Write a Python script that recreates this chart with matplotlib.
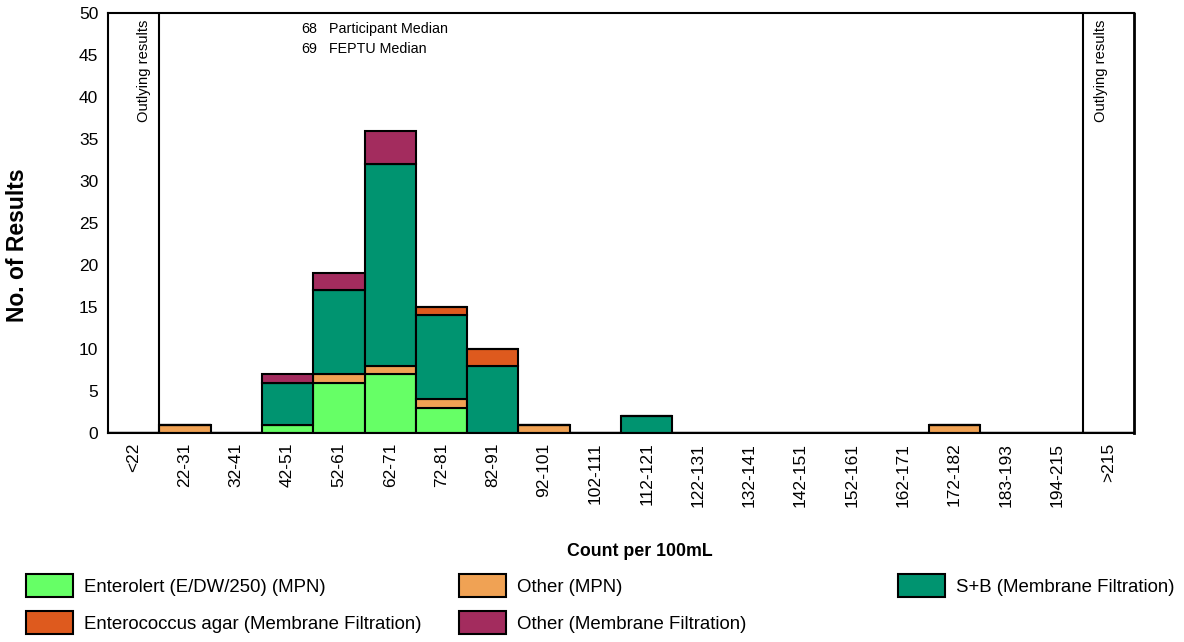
import numpy as np
from matplotlib import pyplot as plt

plt.rcParams['font.family'] = ['Liberation Sans', 'DejaVu Sans']

bins = ['<22', '22-31', '32-41', '42-51', '52-61', '62-71', '72-81', '82-91',
        '92-101', '102-111', '112-121', '122-131', '132-141', '142-151',
        '152-161', '162-171', '172-182', '183-193', '194-215', '>215']

enterolert = [0, 0, 0, 1, 6, 7, 3, 0, 0, 0, 0, 0, 0, 0, 0, 0, 0, 0, 0, 0]
other_mpn  = [0, 1, 0, 0, 1, 1, 1, 0, 1, 0, 0, 0, 0, 0, 0, 0, 1, 0, 0, 0]
sb_mf      = [0, 0, 0, 5, 10, 24, 10, 8, 0, 0, 2, 0, 0, 0, 0, 0, 0, 0, 0, 0]
agar_mf    = [0, 0, 0, 0, 0, 0, 1, 2, 0, 0, 0, 0, 0, 0, 0, 0, 0, 0, 0, 0]
other_mf   = [0, 0, 0, 1, 2, 4, 0, 0, 0, 0, 0, 0, 0, 0, 0, 0, 0, 0, 0, 0]

series = [
    ('Enterolert (E/DW/250) (MPN)', enterolert, '#66FF66'),
    ('Other (MPN)', other_mpn, '#F0A254'),
    ('S+B (Membrane Filtration)', sb_mf, '#009470'),
    ('Enterococcus agar (Membrane Filtration)', agar_mf, '#DE5A1E'),
    ('Other (Membrane Filtration)', other_mf, '#A32C5E'),
]

participant_median = 68
feptu_median = 69

fig = plt.figure(figsize=(11.84, 6.42), dpi=100)
ax = fig.add_axes([108/1184, 1 - 433/642, 1026/1184, 420/642])

x = np.arange(len(bins))
bottom = np.zeros(len(bins))
handles = {}
for name, vals, col in series:
    vals = np.array(vals, dtype=float)
    h = ax.bar(x, vals, width=1.0, bottom=bottom, color=col,
               edgecolor='black', linewidth=1.5, label=name)
    handles[name] = h
    bottom += vals

ax.set_xlim(-0.5, len(bins) - 0.5)
ax.set_ylim(0, 50)
ax.set_yticks(np.arange(0, 51, 5))
ax.set_xticks(x)
ax.set_xticklabels(bins, rotation=90)
ax.tick_params(axis='both', length=0, labelsize=12.5, pad=7)

for s in ['left', 'top', 'bottom']:
    ax.spines[s].set_linewidth(1.5)
ax.spines['right'].set_linestyle((0, (1, 1)))
ax.spines['right'].set_linewidth(2)

# outlier region separators
ax.axvline(0.5, color='black', linewidth=1.5)
ax.axvline(len(bins) - 1.5, color='black', linewidth=1.5)
ax.text(0.2, 49.2, 'Outlying results', rotation=90, ha='center', va='top', fontsize=10.6)
ax.text(len(bins) - 1.15, 49.2, 'Outlying results', rotation=90, ha='center', va='top', fontsize=10.6)

ax.text(0.188, 0.962, str(participant_median), transform=ax.transAxes, fontsize=10.3, va='center')
ax.text(0.215, 0.962, 'Participant Median', transform=ax.transAxes, fontsize=10.3, va='center')
ax.text(0.188, 0.914, str(feptu_median), transform=ax.transAxes, fontsize=10.3, va='center')
ax.text(0.215, 0.914, 'FEPTU Median', transform=ax.transAxes, fontsize=10.3, va='center')

fig.text(18/1184, 1 - 245/642, 'No. of Results', rotation=90, ha='center', va='center',
         fontsize=16.5, fontweight='bold')
fig.text(640/1184, 1 - 551/642, 'Count per 100mL', ha='center', va='center',
         fontsize=12.8, fontweight='bold')

cols = [
    (26, ['Enterolert (E/DW/250) (MPN)', 'Enterococcus agar (Membrane Filtration)']),
    (459, ['Other (MPN)', 'Other (Membrane Filtration)']),
    (898, ['S+B (Membrane Filtration)']),
]
fs = 13.4
fpx = fs * 100 / 72
for xpix, names in cols:
    fig.legend([handles[n] for n in names], names, loc='upper left',
               bbox_to_anchor=(xpix/1184, 1 - 574/642), frameon=False,
               borderpad=0, borderaxespad=0, fontsize=fs, handlelength=47/fpx,
               handleheight=29/fpx, handletextpad=11/fpx, labelspacing=13.5/fpx)

fig.savefig('out.png', dpi=100)
